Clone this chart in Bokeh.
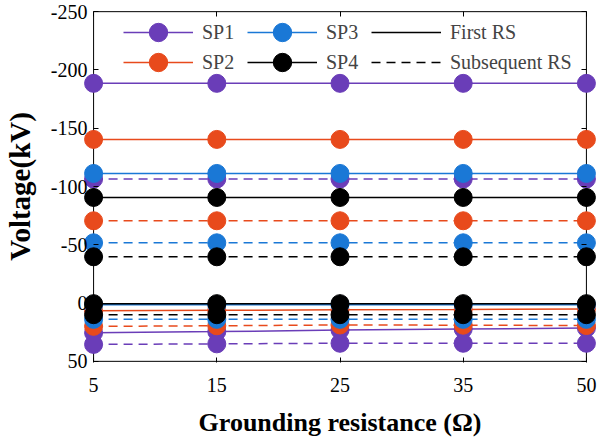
from bokeh.plotting import figure
from bokeh.models import (Range1d, FixedTicker, LinearAxis,
                          Legend, LegendItem)
from bokeh.embed import file_html
from bokeh.resources import INLINE

# ---------------- data ----------------
categories = ["5", "15", "25", "35", "50"]
y_ticks = [-250, -200, -150, -100, -50, 0, 50]
y_tick_labels = ["-250", "-200", "-150", "-100", "-50", "0", "50"]

sp1_first_neg = [-188.5, -188.5, -188.5, -188.5, -188.5]
sp1_first_pos = [25.5, 24.5, 23.2, 22.3, 21.5]
sp1_sub_neg = [-106.4, -106.4, -106.4, -106.4, -106.4]
sp1_sub_pos = [35.5, 35.0, 34.5, 34.5, 34.5]

sp2_first_neg = [-140.4, -140.4, -140.4, -140.4, -140.4]
sp2_first_pos = [6.5, 6.2, 5.8, 5.5, 5.0]
sp2_sub_neg = [-70.6, -70.6, -70.6, -70.6, -70.6]
sp2_sub_pos = [20.0, 19.5, 18.8, 19.0, 19.3]

sp3_first_neg = [-111.2, -111.2, -111.2, -111.2, -111.2]
sp3_first_pos = [1.5, 1.5, 1.5, 1.5, 1.5]
sp3_sub_neg = [-51.7, -51.7, -51.7, -51.7, -51.7]
sp3_sub_pos = [14.0, 14.0, 14.0, 14.0, 14.0]

sp4_first_neg = [-90.6, -90.6, -90.6, -90.6, -90.6]
sp4_first_pos = [0.5, 0.5, 0.5, 0.5, 0.5]
sp4_sub_neg = [-39.7, -39.7, -39.7, -39.7, -39.7]
sp4_sub_pos = [10.0, 10.0, 10.0, 10.0, 10.0]

series_names = ["SP1", "SP2", "SP3", "SP4"]
series_colors = ["#6a3db8", "#e84a1c", "#1a78d6", "#000000"]
series_data = [
    (sp1_first_neg, sp1_first_pos, sp1_sub_neg, sp1_sub_pos),
    (sp2_first_neg, sp2_first_pos, sp2_sub_neg, sp2_sub_pos),
    (sp3_first_neg, sp3_first_pos, sp3_sub_neg, sp3_sub_pos),
    (sp4_first_neg, sp4_first_pos, sp4_sub_neg, sp4_sub_pos),
]

FONT = "Liberation Serif"
Y_MIN, Y_MAX = -250, 50
xpos = list(range(len(categories)))
x_last = len(categories) - 1

p = figure(width=608, height=439,
           x_range=Range1d(-0.09, x_last + 0.09),
           y_range=Range1d(Y_MAX + 1, Y_MIN - 1),
           output_backend="svg", toolbar_location=None,
           min_border_left=82, min_border_right=11,
           min_border_top=10, min_border_bottom=77)
p.grid.visible = False
p.outline_line_color = None
p.background_fill_color = "white"

# axes box (drawn beneath the data)
p.quad(left=[0], right=[x_last], top=[Y_MIN], bottom=[Y_MAX],
       fill_color=None, line_color="black", line_width=1, level="underlay")

legend_renderers = {}
for name, color, data in zip(series_names, series_colors, series_data):
    first_neg, first_pos, sub_neg, sub_pos = data
    rs = []
    for vals, dash in ((first_neg, "solid"), (first_pos, "solid"),
                       (sub_neg, "9 6"), (sub_pos, "9 6")):
        l = p.line(xpos, vals, line_color=color, line_width=1.5, line_dash=dash)
        s = p.scatter(xpos, vals, size=18, marker="circle",
                      fill_color=color, line_color=color)
        rs.append((l, s))
    legend_renderers[name] = [rs[0][0], rs[0][1]]

nan = float("nan")
dummy_solid = p.line([nan], [nan], line_color="black", line_width=1.5)
dummy_dash = p.line([nan], [nan], line_color="black", line_width=1.5,
                    line_dash="9 6")

# ---------------- axes ----------------
xa = p.xaxis[0]
xa.ticker = FixedTicker(ticks=xpos)
xa.major_label_overrides = {i: c for i, c in zip(xpos, categories)}
xa.major_tick_in = 5
xa.major_tick_out = 0
xa.minor_tick_in = 0
xa.minor_tick_out = 0
xa.axis_line_color = None
xa.major_label_standoff = 15
xa.major_label_text_font = FONT
xa.major_label_text_font_size = "20px"
xa.major_label_text_color = "black"
xa.axis_label = "Grounding resistance (\u03a9)"
xa.axis_label_text_font = FONT
xa.axis_label_text_font_style = "bold"
xa.axis_label_text_font_size = "26px"
xa.axis_label_text_color = "black"
xa.axis_label_standoff = 13

ya = p.yaxis[0]
ya.ticker = FixedTicker(ticks=y_ticks)
ya.major_label_overrides = {t: s for t, s in zip(y_ticks, y_tick_labels)}
ya.major_tick_in = 0
ya.major_tick_out = 0
ya.minor_tick_in = 0
ya.minor_tick_out = 0
ya.axis_line_color = None
ya.major_label_standoff = -5
ya.major_label_text_font = FONT
ya.major_label_text_font_size = "20px"
ya.major_label_text_color = "black"
ya.axis_label = "Voltage(kV)"
ya.axis_label_text_font = FONT
ya.axis_label_text_font_style = "bold"
ya.axis_label_text_font_size = "29px"
ya.axis_label_text_color = "black"
ya.axis_label_standoff = 12


def tick_axis(ticks, **kw):
    return LinearAxis(ticker=FixedTicker(ticks=ticks),
                      axis_line_color=None,
                      minor_tick_in=0, minor_tick_out=0,
                      major_tick_line_color="black",
                      major_label_text_font_size="0px",
                      major_label_text_color=None,
                      major_label_standoff=0, **kw)


# left spine ticks (pointing into the box)
p.add_layout(tick_axis(y_ticks, fixed_location=0, major_tick_in=0,
                       major_tick_out=5), "right")
# right spine ticks
p.add_layout(tick_axis(y_ticks, fixed_location=x_last,
                       major_tick_in=5, major_tick_out=0), "right")
# top spine ticks
p.add_layout(tick_axis(xpos, fixed_location=Y_MIN, major_tick_in=5,
                       major_tick_out=0), "above")

# ---------------- legends ----------------
leg_style = dict(orientation="horizontal", border_line_color=None,
                 background_fill_alpha=0, padding=0, margin=0, spacing=8,
                 glyph_width=70, glyph_height=46, label_standoff=9,
                 label_width=37, label_text_font=FONT,
                 label_text_font_size="20px")
leg1 = Legend(items=[LegendItem(label="SP1", renderers=legend_renderers["SP1"]),
                     LegendItem(label="SP3", renderers=legend_renderers["SP3"]),
                     LegendItem(label="First RS", renderers=[dummy_solid])],
              location=(41, 307), **leg_style)
leg2 = Legend(items=[LegendItem(label="SP2", renderers=legend_renderers["SP2"]),
                     LegendItem(label="SP4", renderers=legend_renderers["SP4"]),
                     LegendItem(label="Subsequent RS", renderers=[dummy_dash])],
              location=(41, 277), **leg_style)
p.add_layout(leg1)
p.add_layout(leg2)

open("out.html", "w").write(file_html(p, INLINE))
